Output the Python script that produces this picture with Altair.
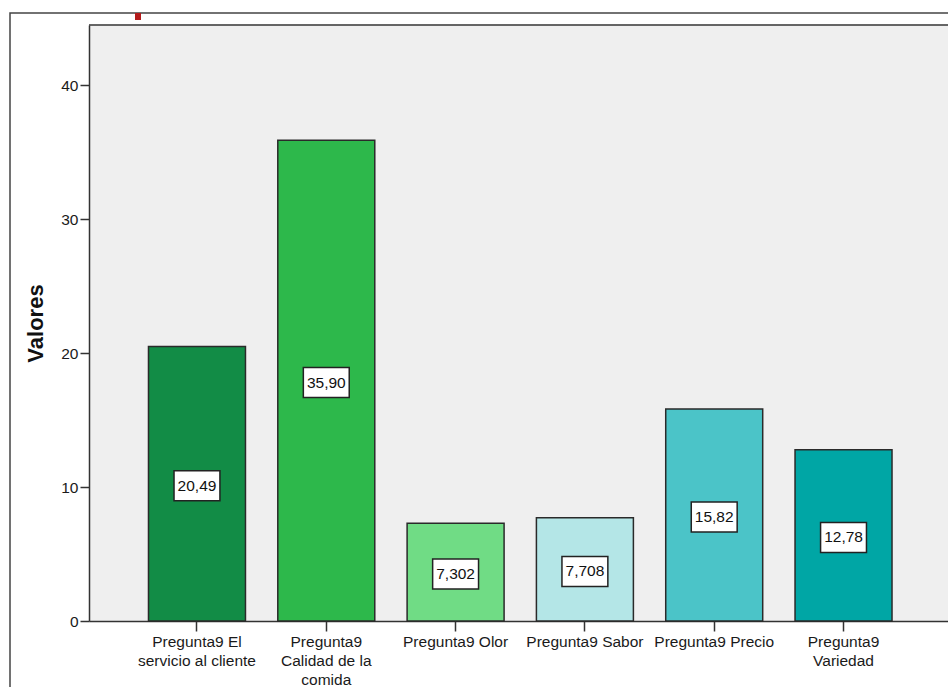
import altair as alt
import pandas as pd

# Categories (with "|" marking the line breaks of the axis labels)
categories = [
    "Pregunta9 El|servicio al cliente",
    "Pregunta9|Calidad de la|comida",
    "Pregunta9 Olor",
    "Pregunta9 Sabor",
    "Pregunta9 Precio",
    "Pregunta9|Variedad",
]
values = [20.49, 35.90, 7.302, 7.708, 15.82, 12.78]
value_labels = ["20,49", "35,90", "7,302", "7,708", "15,82", "12,78"]
bar_colors = ["#128C46", "#2DB84B", "#70DC85", "#B4E6E7", "#4BC4C8", "#00A6A5"]
y_ticks = [0, 10, 20, 30, 40]

df = pd.DataFrame({
    "cat": categories,
    "value": values,
    "label": value_labels,
    "color": bar_colors,
})

FONT = "Liberation Sans"
W, H = 859, 596

x_enc = alt.X(
    "cat:N",
    sort=categories,
    scale=alt.Scale(range=[0, 862.5], paddingInner=0.25, paddingOuter=0.46),
    axis=alt.Axis(
        title=None,
        labelExpr="split(datum.label, '|')",
        labelAngle=0,
        labelAlign="center",
        labelBaseline="top",
        labelFont=FONT,
        labelFontSize=15.5,
        labelLineHeight=19,
        labelColor="#1a1a1a",
        labelPadding=3,
        labelLimit=400,
        labelOverlap=False,
        tickSize=10,
        tickColor="#333333",
        tickWidth=1.5,
        domainColor="#333333",
        domainWidth=1.5,
        grid=False,
    ),
)

y_scale = alt.Scale(domain=[0, 44.5], nice=False, zero=True)

base = alt.Chart(df)

bars = base.mark_bar(stroke="#2a2a2a", strokeWidth=1.5).encode(
    x=x_enc,
    y=alt.Y(
        "value:Q",
        scale=y_scale,
        axis=alt.Axis(
            title="Valores",
            values=y_ticks,
            format="d",
            titleFont=FONT,
            titleFontSize=22,
            titleFontWeight="bold",
            titleColor="#111111",
            titleAngle=270,
            titleAlign="center",
            titleBaseline="middle",
            titleX=-54,
            titleY=298,
            labelFont=FONT,
            labelFontSize=15.5,
            labelColor="#1a1a1a",
            labelPadding=2,
            tickSize=9,
            tickColor="#333333",
            tickWidth=1.5,
            domainColor="#333333",
            domainWidth=1.5,
            grid=False,
        ),
    ),
    color=alt.Color("color:N", scale=None),
)

boxes = base.transform_calculate(mid="datum.value / 2").mark_point(
    shape="M-1.53,-1H1.53V1H-1.53Z",
    size=900,
    filled=True,
    fill="white",
    fillOpacity=1,
    opacity=1,
    stroke="#222222",
    strokeWidth=1.5,
    yOffset=2,
).encode(
    x=alt.X("cat:N", sort=categories),
    y=alt.Y("mid:Q", scale=y_scale),
)

texts = base.transform_calculate(mid="datum.value / 2").mark_text(
    font=FONT,
    fontSize=15.5,
    color="#111111",
    baseline="middle",
    align="center",
    yOffset=2,
).encode(
    x=alt.X("cat:N", sort=categories),
    y=alt.Y("mid:Q", scale=y_scale),
    text="label:N",
)

deco = alt.Chart(pd.DataFrame({"k": [0]}))

outer_frame = deco.mark_rect(
    fill="transparent", stroke="#444444", strokeWidth=1.5
).encode(
    x=alt.value(-79), x2=alt.value(900), y=alt.value(-12), y2=alt.value(700)
)

top_line = deco.mark_rule(color="#333333", strokeWidth=1.5).encode(
    x=alt.value(0), x2=alt.value(W + 5), y=alt.value(0)
)

red_mark = deco.mark_rect(fill="#B31B1B").encode(
    x=alt.value(46), x2=alt.value(52), y=alt.value(-12), y2=alt.value(-5)
)

chart = (
    alt.layer(outer_frame, red_mark, bars, top_line, boxes, texts)
    .properties(
        width=W,
        height=H,
        padding={"left": 89, "top": 25, "right": 0, "bottom": 66},
        autosize="none",
        background="white",
    )
    .configure_view(fill="#EFEFEF", stroke="transparent")
)

chart.save("out.html", embed_options={"renderer": "svg", "actions": False})
